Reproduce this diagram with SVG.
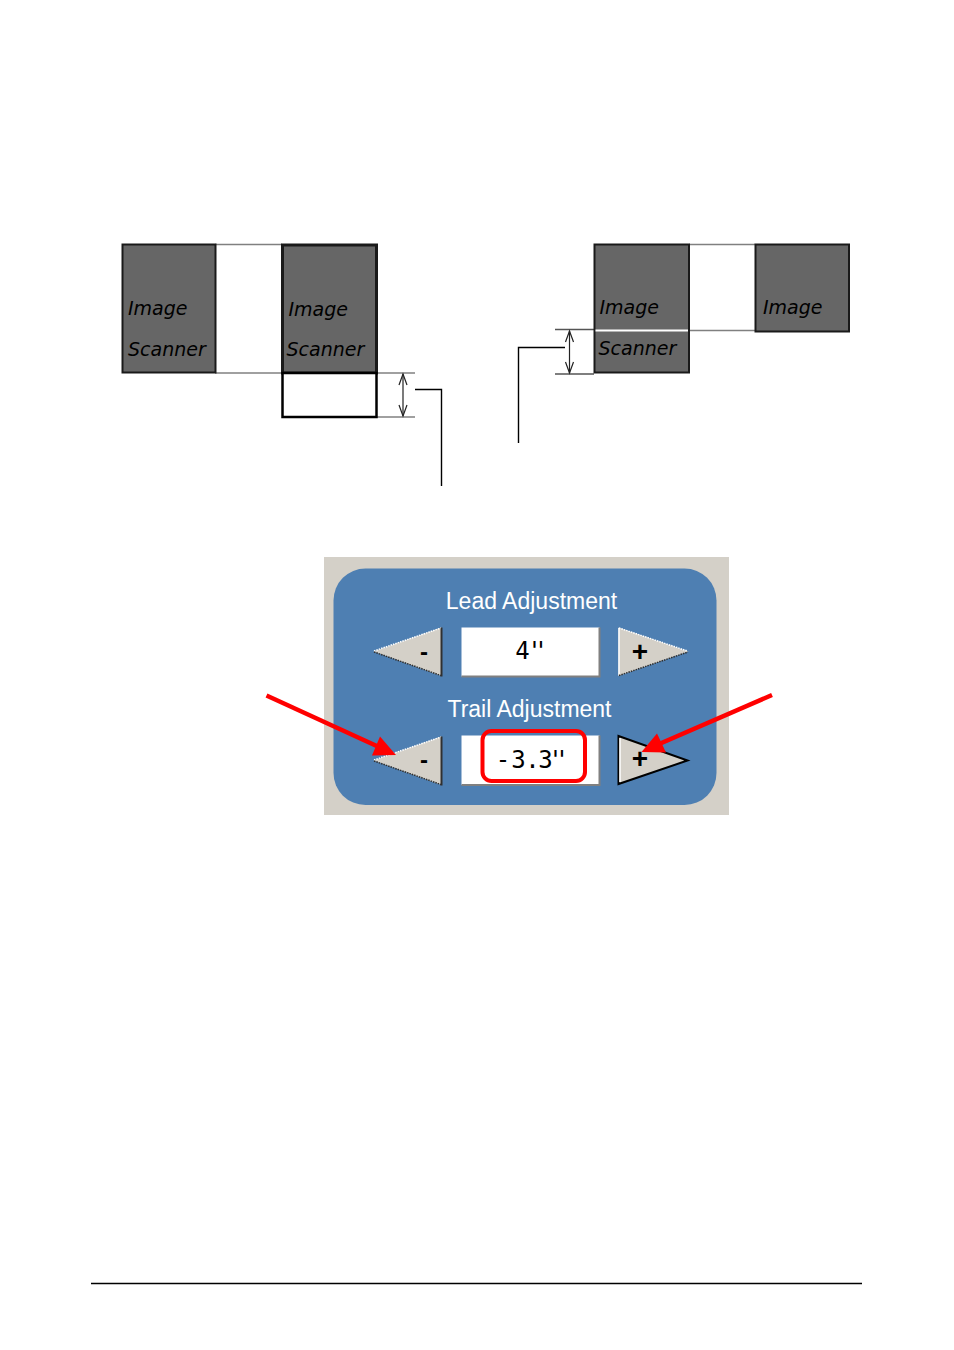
<svg xmlns="http://www.w3.org/2000/svg" width="954" height="1350" viewBox="0 0 954 1350">
<style>
.box{fill:#666666;stroke:#1a1a1a;stroke-width:2}
.lbl{font-family:"DejaVu Sans",sans-serif;font-style:italic;font-size:19px;fill:#000}
.guide{stroke:#808080;stroke-width:1.5;fill:none}
.ext{stroke:#555;stroke-width:1.5;fill:none}
.dim{stroke:#222;stroke-width:1.2;fill:none}
.lead{stroke:#000;stroke-width:1.4;fill:none}
.btn{fill:#d4d0c8}
.hi{stroke:#ffffff;stroke-width:1.5;stroke-dasharray:1.5 1;fill:none}
.sh{stroke:#303030;stroke-width:1.5;stroke-dasharray:1.5 1;fill:none}
.edge{stroke:#303030;stroke-width:2;fill:none}
.title{font-family:"Liberation Sans",Arial,sans-serif;font-size:23px;fill:#fff;text-anchor:middle}
.val{font-family:"DejaVu Sans Mono",monospace;font-size:24px;fill:#000;text-anchor:middle}
.sign{font-family:"Liberation Sans",Arial,sans-serif;font-weight:bold;fill:#000;text-anchor:middle}
.red{stroke:#ff0000;stroke-width:4.5;fill:none}
</style>

<g id="connectors">
  <line class="guide" x1="215" y1="244.5" x2="282" y2="244.5"/>
  <line class="guide" x1="215" y1="373" x2="415" y2="373"/>
  <line class="guide" x1="376" y1="417" x2="415" y2="417"/>
  <line class="dim" x1="403" y1="374" x2="403" y2="416"/>
  <path class="dim" d="M399,385 L403,374 L407,385 M399,405 L403,416 L407,405"/>
  <polyline class="lead" points="415,389.5 441.5,389.5 441.5,486"/>

  <line class="guide" x1="689" y1="244.5" x2="755" y2="244.5"/>
  <line class="guide" x1="689" y1="330.5" x2="755" y2="330.5"/>
  <line class="ext" x1="555" y1="329.5" x2="594" y2="329.5"/>
  <line class="ext" x1="555" y1="374" x2="594" y2="374"/>
  <line class="dim" x1="569.5" y1="331" x2="569.5" y2="373"/>
  <path class="dim" d="M565.5,342 L569.5,331 L573.5,342 M565.5,362 L569.5,373 L573.5,362"/>
  <polyline class="lead" points="565,347.5 518.5,347.5 518.5,443"/>
</g>

<g id="box1">
  <rect class="box" x="122.5" y="244.5" width="93" height="128"/>
  <text class="lbl" x="128" y="315">Image</text>
  <text class="lbl" x="128" y="356">Scanner</text>
</g>
<g id="box2">
  <rect class="box" x="282.5" y="245" width="94" height="128" style="stroke-width:3"/>
  <text class="lbl" x="288.5" y="316">Image</text>
  <text class="lbl" x="286.5" y="356">Scanner</text>
</g>
<g id="box2-extension">
  <rect x="282.5" y="373" width="94" height="44" fill="#fff" stroke="#000" stroke-width="2.5"/>
</g>
<g id="box3">
  <rect class="box" x="594.5" y="244.5" width="94.5" height="128"/>
  <line x1="595.5" y1="330.5" x2="688" y2="330.5" stroke="#fff" stroke-width="2"/>
  <text class="lbl" x="599.5" y="314">Image</text>
  <text class="lbl" x="598.5" y="355">Scanner</text>
</g>
<g id="box4">
  <rect class="box" x="755.5" y="244.5" width="93.5" height="87"/>
  <text class="lbl" x="763" y="314">Image</text>
</g>

<g id="panel">
  <rect x="324" y="557" width="405" height="258" fill="#d4d0c8"/>
  <rect x="333.5" y="568.5" width="383" height="236.5" rx="32" ry="32" fill="#4e7fb2"/>
  <text class="title" x="531.5" y="609">Lead Adjustment</text>
  <text class="title" x="529.5" y="717">Trail Adjustment</text>
</g>

<g id="lead-minus">
  <polygon class="btn" points="373.5,651.5 441.5,627.5 441.5,676"/>
  <line class="hi" x1="374" y1="651" x2="441" y2="628"/>
  <line class="sh" x1="374" y1="652" x2="441" y2="675.5"/>
  <line class="edge" x1="441.5" y1="627.5" x2="441.5" y2="676.5"/>
  <text class="sign" x="424" y="660" font-size="24">-</text>
</g>
<g id="lead-value">
  <rect x="461.5" y="627.5" width="138" height="49" fill="#fff"/>
  <polyline points="461.5,676.5 599.5,676.5 599.5,627.5" stroke="#808080" stroke-width="2" fill="none"/>
  <text class="val" x="522.5 534.5 541" y="659">4''</text>
</g>
<g id="lead-plus">
  <polygon class="btn" points="618.5,627.5 688.5,651.5 618.5,676"/>
  <line class="hi" x1="619" y1="628" x2="687.5" y2="651"/>
  <line x1="619" y1="628" x2="619" y2="675.5" stroke="#fff" stroke-width="1.5"/>
  <line class="sh" x1="619" y1="675.5" x2="688" y2="652"/>
  <text class="sign" x="640" y="660.5" font-size="28">+</text>
</g>

<g id="trail-minus">
  <polygon class="btn" points="373.5,760.5 441.5,736.5 441.5,785"/>
  <line class="hi" x1="374" y1="760" x2="441" y2="737"/>
  <line class="sh" x1="374" y1="761" x2="441" y2="784.5"/>
  <line class="edge" x1="441.5" y1="736.5" x2="441.5" y2="785.5"/>
  <text class="sign" x="424" y="768" font-size="24">-</text>
</g>
<g id="trail-value">
  <rect x="461.5" y="735.5" width="138" height="49.5" fill="#fff"/>
  <polyline points="461.5,785 599.5,785 599.5,735.5" stroke="#808080" stroke-width="2" fill="none"/>
  <rect x="482.5" y="731" width="102.5" height="50" rx="9" ry="9" fill="none" stroke="#ff0000" stroke-width="4"/>
  <text class="val" x="503 518.5 532.5 545.5 555.5 562" y="767.5">-3.3''</text>
</g>
<g id="trail-plus">
  <polygon class="btn" points="618.5,736 687.5,760.5 618.5,784" stroke="#000" stroke-width="2"/>
  <line x1="620" y1="738" x2="620" y2="782" stroke="#fff" stroke-width="1.5"/>
  <text class="sign" x="640" y="768" font-size="28">+</text>
</g>

<g id="red-arrows">
  <line class="red" x1="266.5" y1="695.5" x2="380" y2="747.5"/>
  <polygon points="396,755 372,755.5 380,736.5" fill="#ff0000"/>
  <line class="red" x1="772" y1="695" x2="658" y2="744.5"/>
  <polygon points="641.5,752 666,752.5 657,733.5" fill="#ff0000"/>
</g>

<g id="footer-rule">
  <line x1="91" y1="1283.5" x2="862" y2="1283.5" stroke="#000" stroke-width="1.5"/>
</g>
</svg>
